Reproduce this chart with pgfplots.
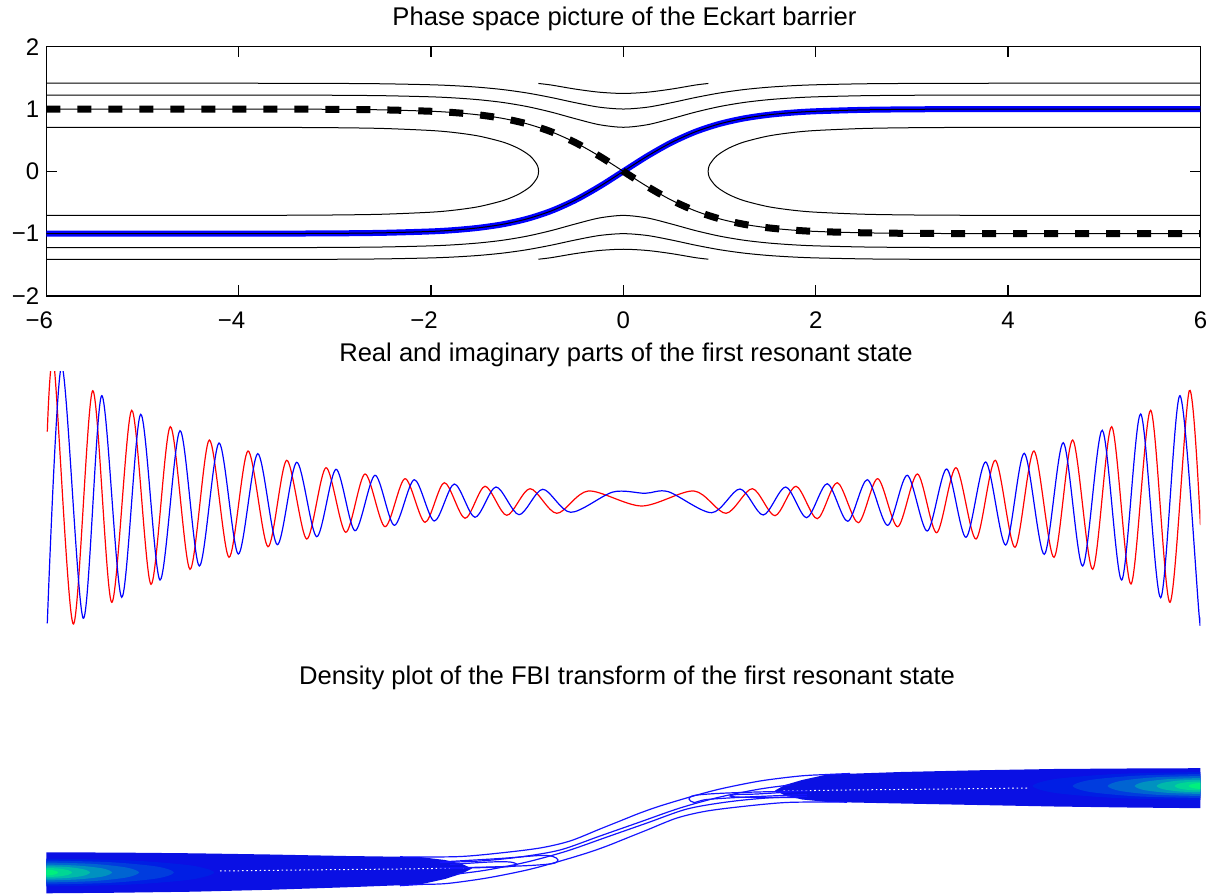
\documentclass[border=0pt]{standalone}
\usepackage{fontspec}
\setmainfont{Liberation Sans}
\usepackage{pgfplots}
\pgfplotsset{compat=1.18}
\definecolor{bandblue}{RGB}{10,16,228}
\definecolor{lineblue}{RGB}{20,20,255}
\definecolor{lvA}{RGB}{0,30,228}
\definecolor{lvB}{RGB}{0,60,222}
\definecolor{lvC}{RGB}{0,100,210}
\definecolor{lvD}{RGB}{0,145,192}
\definecolor{lvE}{RGB}{0,185,170}
\definecolor{lvF}{RGB}{0,215,148}
\definecolor{lvG}{RGB}{0,240,125}
\newcommand{\lbl}{\fontsize{12}{14}\selectfont}
\newcommand{\ttl}{\fontsize{12.8}{15}\selectfont}
\begin{document}
\begin{tikzpicture}
\path[use as bounding box] (0,0) rectangle (608pt,447pt);

% titles (positions in picture pixels / 2)
\node[anchor=base, font=\ttl] at (312.2pt,434pt) {Phase space picture of the Eckart barrier};
\node[anchor=base, font=\ttl] at (313pt,266pt) {Real and imaginary parts of the first resonant state};
\node[anchor=base, font=\ttl] at (313.5pt,104.5pt) {Density plot of the FBI transform of the first resonant state};

% ---------- phase space ----------
\begin{axis}[
  at={(23.15pt,299pt)}, anchor=south west,
  scale only axis, width=577.05pt, height=124.65pt,
  xmin=-6, xmax=6, ymin=-2, ymax=2,
  xtick={-6,-4,-2,0,2,4,6}, ytick={-2,-1,0,1,2},
  xticklabels={\llap{−}6,\llap{−}4,\llap{−}2,0,2,4,6},
  yticklabels={−2,−1,0,1,2},
  tick align=inside, major tick length=5.3pt,
  every tick/.style={black, line width=0.6pt},
  axis line style={line width=0.6pt},
  ticklabel style={font=\lbl},
  xticklabel style={yshift=-4.5pt},
  clip=true,
]
% separatrix p = tanh x (thick blue)
\addplot[blue, line width=3pt, smooth] coordinates {
 (-6,-1.0000) (-5,-0.9999) (-4,-0.9993) (-3.5,-0.9982) (-3,-0.9951) (-2.5,-0.9866)
 (-2,-0.9640) (-1.75,-0.9414) (-1.5,-0.9051) (-1.25,-0.8483) (-1,-0.7616) (-0.75,-0.6351)
 (-0.5,-0.4621) (-0.25,-0.2449) (0,0) (0.25,0.2449) (0.5,0.4621) (0.75,0.6351)
 (1,0.7616) (1.25,0.8483) (1.5,0.9051) (1.75,0.9414) (2,0.9640) (2.5,0.9866)
 (3,0.9951) (3.5,0.9982) (4,0.9993) (5,0.9999) (6,1.0000)};
% separatrix p = -tanh x (thick dashed)
\addplot[black, line width=3.5pt, dash pattern=on 7pt off 8.5pt, smooth] coordinates {
 (-6,1.0000) (-5,0.9999) (-4,0.9993) (-3.5,0.9982) (-3,0.9951) (-2.5,0.9866)
 (-2,0.9640) (-1.75,0.9414) (-1.5,0.9051) (-1.25,0.8483) (-1,0.7616) (-0.75,0.6351)
 (-0.5,0.4621) (-0.25,0.2449) (0,0) (0.25,-0.2449) (0.5,-0.4621) (0.75,-0.6351)
 (1,-0.7616) (1.25,-0.8483) (1.5,-0.9051) (1.75,-0.9414) (2,-0.9640) (2.5,-0.9866)
 (3,-0.9951) (3.5,-0.9982) (4,-0.9993) (5,-0.9999) (6,-1.0000)};
% contour lines
\addplot[black, line width=0.5pt, smooth] coordinates {
 (-6,-1.0000) (-5,-0.9999) (-4,-0.9993) (-3.5,-0.9982) (-3,-0.9951) (-2.5,-0.9866)
 (-2,-0.9640) (-1.75,-0.9414) (-1.5,-0.9051) (-1.25,-0.8483) (-1,-0.7616) (-0.75,-0.6351)
 (-0.5,-0.4621) (-0.25,-0.2449) (0,0) (0.25,0.2449) (0.5,0.4621) (0.75,0.6351)
 (1,0.7616) (1.25,0.8483) (1.5,0.9051) (1.75,0.9414) (2,0.9640) (2.5,0.9866)
 (3,0.9951) (3.5,0.9982) (4,0.9993) (5,0.9999) (6,1.0000)};
\addplot[black, line width=0.5pt, smooth] coordinates {
 (-6,1.0000) (-5,0.9999) (-4,0.9993) (-3.5,0.9982) (-3,0.9951) (-2.5,0.9866)
 (-2,0.9640) (-1.75,0.9414) (-1.5,0.9051) (-1.25,0.8483) (-1,0.7616) (-0.75,0.6351)
 (-0.5,0.4621) (-0.25,0.2449) (0,0) (0.25,-0.2449) (0.5,-0.4621) (0.75,-0.6351)
 (1,-0.7616) (1.25,-0.8483) (1.5,-0.9051) (1.75,-0.9414) (2,-0.9640) (2.5,-0.9866)
 (3,-0.9951) (3.5,-0.9982) (4,-0.9993) (5,-0.9999) (6,-1.0000)};
% outer level (asymptote 1.41)
\addplot[black, line width=0.5pt, smooth] coordinates {
 (-6,1.4142) (-5,1.4142) (-4,1.4137) (-3.5,1.4129) (-3,1.4107) (-2.5,1.4048) (-2,1.3890)
 (-1.75,1.3734) (-1.5,1.3488) (-1.25,1.3113) (-1,1.2570) (-0.75,1.1847) (-0.5,1.1016)
 (-0.25,1.0296) (0,1.0000) (0.25,1.0296) (0.5,1.1016) (0.75,1.1847) (1,1.2570)
 (1.25,1.3113) (1.5,1.3488) (1.75,1.3734) (2,1.3890) (2.5,1.4048) (3,1.4107)
 (3.5,1.4129) (4,1.4137) (5,1.4142) (6,1.4142)};
\addplot[black, line width=0.5pt, smooth] coordinates {
 (-6,-1.4142) (-5,-1.4142) (-4,-1.4137) (-3.5,-1.4129) (-3,-1.4107) (-2.5,-1.4048) (-2,-1.3890)
 (-1.75,-1.3734) (-1.5,-1.3488) (-1.25,-1.3113) (-1,-1.2570) (-0.75,-1.1847) (-0.5,-1.1016)
 (-0.25,-1.0296) (0,-1.0000) (0.25,-1.0296) (0.5,-1.1016) (0.75,-1.1847) (1,-1.2570)
 (1.25,-1.3113) (1.5,-1.3488) (1.75,-1.3734) (2,-1.3890) (2.5,-1.4048) (3,-1.4107)
 (3.5,-1.4129) (4,-1.4137) (5,-1.4142) (6,-1.4142)};
% level with asymptote 1.22
\addplot[black, line width=0.5pt, smooth] coordinates {
 (-6,1.2247) (-5,1.2246) (-4,1.2242) (-3.5,1.2232) (-3,1.2207) (-2.5,1.2138) (-2,1.1956)
 (-1.75,1.1774) (-1.5,1.1486) (-1.25,1.1044) (-1,1.0392) (-0.75,0.9505) (-0.5,0.8448)
 (-0.25,0.7483) (0,0.7071) (0.25,0.7483) (0.5,0.8448) (0.75,0.9505) (1,1.0392)
 (1.25,1.1044) (1.5,1.1486) (1.75,1.1774) (2,1.1956) (2.5,1.2138) (3,1.2207)
 (3.5,1.2232) (4,1.2242) (5,1.2246) (6,1.2247)};
\addplot[black, line width=0.5pt, smooth] coordinates {
 (-6,-1.2247) (-5,-1.2246) (-4,-1.2242) (-3.5,-1.2232) (-3,-1.2207) (-2.5,-1.2138) (-2,-1.1956)
 (-1.75,-1.1774) (-1.5,-1.1486) (-1.25,-1.1044) (-1,-1.0392) (-0.75,-0.9505) (-0.5,-0.8448)
 (-0.25,-0.7483) (0,-0.7071) (0.25,-0.7483) (0.5,-0.8448) (0.75,-0.9505) (1,-1.0392)
 (1.25,-1.1044) (1.5,-1.1486) (1.75,-1.1774) (2,-1.1956) (2.5,-1.2138) (3,-1.2207)
 (3.5,-1.2232) (4,-1.2242) (5,-1.2246) (6,-1.2247)};
% short arcs above and below the barrier top
\addplot[black, line width=0.5pt, smooth] coordinates {
 (-0.884,1.41) (-0.75,1.385) (-0.5,1.32) (-0.25,1.27) (0,1.25) (0.25,1.27) (0.5,1.32) (0.75,1.385) (0.884,1.41)};
\addplot[black, line width=0.5pt, smooth] coordinates {
 (-0.884,-1.41) (-0.75,-1.385) (-0.5,-1.32) (-0.25,-1.27) (0,-1.25) (0.25,-1.27) (0.5,-1.32) (0.75,-1.385) (0.884,-1.41)};
% closed orbits left and right of the barrier
\addplot[black, line width=0.5pt, smooth] coordinates {
 (6,0.7071) (5,0.7070) (4,0.7062) (3.5,0.7045) (3,0.7001) (2.5,0.6880) (2,0.6553)
 (1.75,0.6214) (1.5,0.5651) (1.25,0.4686) (1.1,0.3752) (1,0.2828) (0.95,0.2175)
 (0.9,0.1145) (0.885,0.0503) (0.8814,0) (0.885,-0.0503) (0.9,-0.1145) (0.95,-0.2175)
 (1,-0.2828) (1.1,-0.3752) (1.25,-0.4686) (1.5,-0.5651) (1.75,-0.6214) (2,-0.6553)
 (2.5,-0.6880) (3,-0.7001) (3.5,-0.7045) (4,-0.7062) (5,-0.7070) (6,-0.7071)};
\addplot[black, line width=0.5pt, smooth] coordinates {
 (-6,0.7071) (-5,0.7070) (-4,0.7062) (-3.5,0.7045) (-3,0.7001) (-2.5,0.6880) (-2,0.6553)
 (-1.75,0.6214) (-1.5,0.5651) (-1.25,0.4686) (-1.1,0.3752) (-1,0.2828) (-0.95,0.2175)
 (-0.9,0.1145) (-0.885,0.0503) (-0.8814,0) (-0.885,-0.0503) (-0.9,-0.1145) (-0.95,-0.2175)
 (-1,-0.2828) (-1.1,-0.3752) (-1.25,-0.4686) (-1.5,-0.5651) (-1.75,-0.6214) (-2,-0.6553)
 (-2.5,-0.6880) (-3,-0.7001) (-3.5,-0.7045) (-4,-0.7062) (-5,-0.7070) (-6,-0.7071)};
\end{axis}

% ---------- real and imaginary parts (picture pixel units) ----------
\begin{axis}[
  at={(23.15pt,134pt)}, anchor=south west,
  scale only axis, width=577.05pt, height=127pt,
  xmin=46.3, xmax=1200.4, ymin=372, ymax=626, y dir=reverse,
  hide axis, clip=true,
]
\addplot[red, line width=0.6pt, smooth] coordinates {
 (47.3,431.7) (54,365) (73.3,624) (92.7,390.7) (111.7,602.3) (131.7,410.3) (151,584.3)
 (170.3,426.7) (190,569.3) (209.3,440) (229,557.3) (248,451) (268,546.7) (286.7,460.3)
 (306.7,539) (326,467.7) (345.7,532.3) (365,474) (385,526.7) (405,478.7) (425,522.3)
 (444.3,482.7) (465,518.3) (485,486.3) (506.7,515.3) (530,488.7) (556.7,513.3)
 (588.3,491) (641.7,506) (694,491) (726,513.3) (752.3,488.7) (775,515.7) (796,486.3)
 (817.3,518.7) (837.3,482.7) (858.3,522.7) (877.7,478.7) (897.7,526.7) (917.5,474)
 (936.7,532.7) (956,467.7) (976,539) (995.3,460.3) (1015,547.3) (1034,451) (1054,557.3)
 (1072.7,440) (1092.7,569.3) (1111.7,426.7) (1131,584) (1150.7,410.3) (1170,602.3)
 (1189.3,390.7) (1200.4,525)};
\addplot[blue, line width=0.6pt, smooth] coordinates {
 (47.3,623.3) (61.7,366) (83.3,618.3) (101.7,395.7) (121.7,597.3) (140.7,414.3) (160,580)
 (180,430.7) (199.3,566) (219,443) (238.3,554) (257.7,453.7) (277.3,544.7) (296.7,462.3)
 (316.7,536.7) (336,469.3) (355,530.7) (375,475.3) (394.3,525.3) (414.3,479.7)
 (434.3,521) (454.3,484) (475,517.3) (496,487) (519,514.7) (542.7,489.3) (570.7,512.3)
 (613,492) (645,493.3) (668.3,491.7) (711.7,512.7) (740,489) (763.3,515) (785.7,487)
 (806.7,517.7) (827.3,483.7) (847.7,521.3) (867.3,479.7) (887.7,525.3) (907.3,475.3)
 (927.3,531) (946.7,469) (966,537.3) (985.7,462) (1005.7,545) (1024.3,453.3)
 (1044.3,554.3) (1063.3,442.7) (1082.7,566) (1102.3,430.3) (1121.7,580) (1140.7,414)
 (1160.7,597.7) (1180,395.7) (1199.3,617.3) (1200.4,617.3)};
\end{axis}

% ---------- FBI transform density (picture pixel units) ----------
\begin{axis}[
  at={(23.15pt,0pt)}, anchor=south west,
  scale only axis, width=577.05pt, height=96pt,
  xmin=46.3, xmax=1200.4, ymin=702, ymax=894, y dir=reverse,
  hide axis, clip=true,
]
% dense bands of contour levels
\addplot[fill=bandblue, draw=none] coordinates {
 (30,852.2) (46.3,852.3) (120,852.6) (193,853.3) (270,854.5) (346,856) (420,857)
 (445,860) (462,864) (472,868.5) (462,873.5) (445,879) (420,884.5) (346,887.3)
 (270,889.8) (193,891.7) (120,892.7) (46.3,893.3) (30,893.4) (30,852.2)};
\addplot[fill=bandblue, draw=none] coordinates {
 (1217,768) (1200.4,768.2) (1127,768.5) (1054,769) (977,770.3) (901,772) (827,774.5)
 (802,780) (785,785) (775,790.5) (785,795.5) (802,799.5) (827,802) (901,803.5)
 (977,805) (1054,806.5) (1127,807.5) (1200.4,808.2) (1217,808.3) (1217,768)};
% higher levels near both ends
\addplot[fill=lvA, draw=none, smooth] coordinates {(44,858.5) (129,860.4) (191.2,865.5) (214,872.5) (191.2,879.5) (129,884.6) (44,886.5)};
\addplot[fill=lvB, draw=none, smooth] coordinates {(44,860.5) (109,862.1) (156.6,866.5) (174,872.5) (156.6,878.5) (109,882.9) (44,884.5)};
\addplot[fill=lvC, draw=none, smooth] coordinates {(44,862.5) (91.5,863.8) (126.3,867.5) (139,872.5) (126.3,877.5) (91.5,881.2) (44,882.5)};
\addplot[fill=lvD, draw=none, smooth] coordinates {(44,864.5) (78,865.6) (102.9,868.5) (112,872.5) (102.9,876.5) (78,879.4) (44,880.5)};
\addplot[fill=lvE, draw=none, smooth] coordinates {(44,866.2) (67,867) (83.8,869.35) (90,872.5) (83.8,875.65) (67,878) (44,878.8)};
\addplot[fill=lvF, draw=none, smooth] coordinates {(44,867.9) (58,868.5) (68.2,870.2) (72,872.5) (68.2,874.8) (58,876.5) (44,877.1)};
\addplot[fill=lvG, draw=none, smooth] coordinates {(44,869.5) (51,869.9) (56.1,871) (58,872.5) (56.1,874) (51,875.1) (44,875.5)};
\addplot[fill=lvA, draw=none, smooth] coordinates {(1202.7,772) (1117.7,773.9) (1055.5,779) (1032.7,786) (1055.5,793) (1117.7,798.1) (1202.7,800)};
\addplot[fill=lvB, draw=none, smooth] coordinates {(1202.7,774) (1137.7,775.6) (1090.1,780) (1072.7,786) (1090.1,792) (1137.7,796.4) (1202.7,798)};
\addplot[fill=lvC, draw=none, smooth] coordinates {(1202.7,776) (1155.2,777.3) (1120.4,781) (1107.7,786) (1120.4,791) (1155.2,794.7) (1202.7,796)};
\addplot[fill=lvD, draw=none, smooth] coordinates {(1202.7,778) (1168.7,779.1) (1143.8,782) (1134.7,786) (1143.8,790) (1168.7,792.9) (1202.7,794)};
\addplot[fill=lvE, draw=none, smooth] coordinates {(1202.7,779.7) (1179.7,780.5) (1162.9,782.85) (1156.7,786) (1162.9,789.15) (1179.7,791.5) (1202.7,792.3)};
\addplot[fill=lvF, draw=none, smooth] coordinates {(1202.7,781.4) (1188.7,782) (1178.5,783.7) (1174.7,786) (1178.5,788.3) (1188.7,790) (1202.7,790.6)};
\addplot[fill=lvG, draw=none, smooth] coordinates {(1202.7,783) (1195.7,783.4) (1190.6,784.5) (1188.7,786) (1190.6,787.5) (1195.7,788.6) (1202.7,789)};
% gaps between levels along the ridge
\addplot[white, line width=0.5pt, dash pattern=on 0.8pt off 1.4pt] coordinates {
 (220,871) (300,870) (400,869) (465,868)};
\addplot[white, line width=0.5pt, dash pattern=on 0.8pt off 1.4pt] coordinates {
 (1027,788) (947,789) (847,790) (782,791)};
% isolated contour lines through the barrier region
\addplot[lineblue, line width=0.6pt, smooth] coordinates {
 (400,856.8) (420,857) (461,856.5) (500,853) (540,848) (570,841) (600,829) (620,821) (640,813)
 (660,806) (690,797) (720,789) (760,781) (800,776) (827,774.5) (850,773.5)};
\addplot[lineblue, line width=0.6pt, smooth] coordinates {
 (440,862.5) (480,861) (520,857) (560,850) (600,836) (640,822) (680,808) (720,797) (760,789) (790,785)};
\addplot[lineblue, line width=0.6pt, smooth] coordinates {
 (457,874) (487,870) (527,862) (567,851) (607,837) (647,823) (687,809) (727,802) (767,798) (807,796.5)};
\addplot[lineblue, line width=0.6pt, smooth] coordinates {
 (400,885.7) (420,884.5) (447,883.5) (487,878) (527,870) (557,862) (587,853) (607,846) (627,838)
 (647,830) (677,818) (707,811) (747,806) (786,802.5) (827,802) (847,802.2)};
% nested lobes
\addplot[lineblue, line width=0.6pt, smooth] coordinates {
 (440,862) (500,858.5) (540,855.5) (553,856.5) (558,860) (553,863.5) (530,865.5) (490,867) (440,868)};
\addplot[lineblue, line width=0.6pt, smooth] coordinates {
 (450,864.5) (490,862) (510,862) (517,864.5) (510,866.5) (485,867.5) (450,868.5)};
\addplot[lineblue, line width=0.6pt, smooth] coordinates {
 (807,794.5) (747,797) (707,799.5) (694,802.5) (689,799) (694,795.5) (717,793.5) (757,792) (807,791)};
\addplot[lineblue, line width=0.6pt, smooth] coordinates {
 (797,791.5) (757,794) (737,794.5) (730,796) (737,797) (762,797.5) (797,797.5)};
\end{axis}
\end{tikzpicture}
\end{document}
